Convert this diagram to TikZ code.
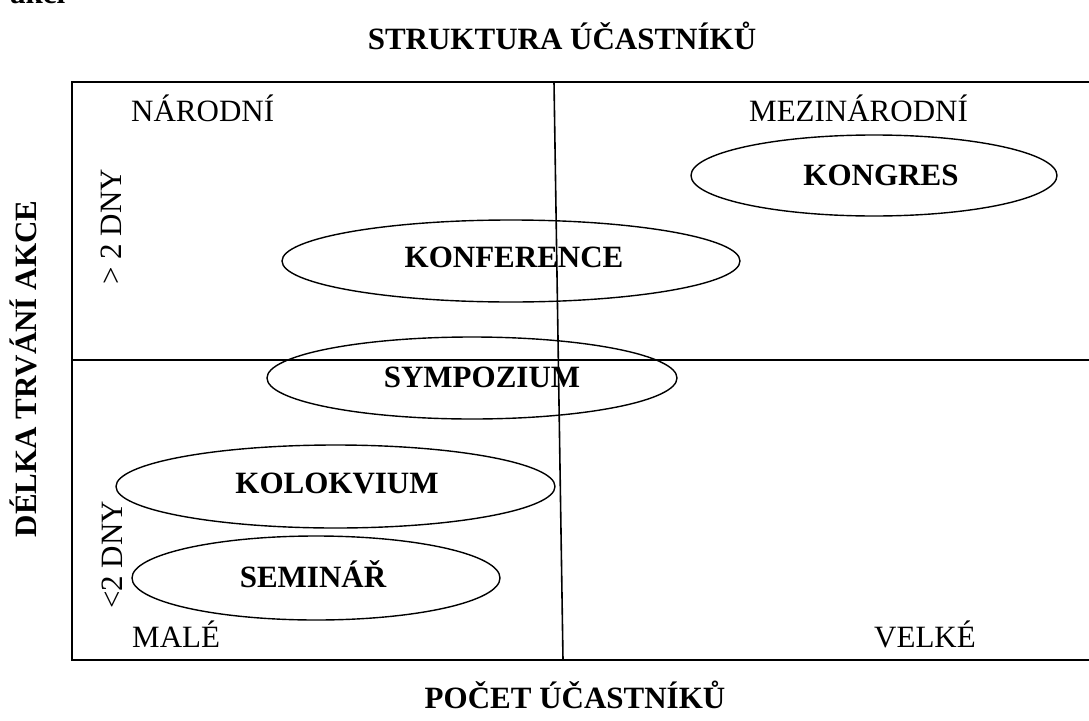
\documentclass[tikz,border=0pt]{standalone}
\usepackage{fontspec}
\setmainfont{Liberation Serif}
\usetikzlibrary{shapes.geometric}
\begin{document}
\begin{tikzpicture}[x=1pt,y=-1pt,
  txt/.style={font=\fontsize{31}{36}\selectfont, inner sep=0pt},
  btxt/.style={font=\fontsize{31}{36}\selectfont\bfseries, inner sep=0pt},
  oval/.style={draw, ellipse, line width=1.4pt, inner sep=0pt},
  frameline/.style={line width=1.6pt}]
\useasboundingbox (0,0) rectangle (1089,720);
% frame
\coordinate (tr) at (1095,82);
\coordinate (tl) at (72,82);
\coordinate (bl) at (72,660);
\coordinate (br) at (1095,660);
\coordinate (ml) at (72,360);
\coordinate (mr) at (1095,360);
\coordinate (vt) at (554,82);
\coordinate (vb) at (563,660);
\draw[frameline] (tr) -- (tl) -- (bl) -- (br);
\draw[frameline] (ml) -- (mr);
\draw[frameline] (vt) -- (vb);
% cut-off heading fragment
\node[btxt, anchor=base west] (akci) at (10,4) {akcí};
% titles
\node[btxt, anchor=base] (title) at (562,49) {STRUKTURA ÚČASTNÍKŮ};
\node[btxt, anchor=base] (pocet) at (575,708) {POČET ÚČASTNÍKŮ};
\node[btxt, anchor=base, rotate=90] (delka) at (36,369) {DÉLKA TRVÁNÍ AKCE};
% axis labels
\node[txt, anchor=base west] (narodni) at (131,121) {NÁRODNÍ};
\node[txt, anchor=base west] (mezi) at (749,121) {MEZINÁRODNÍ};
\node[txt, anchor=base west] (male) at (132,647) {MALÉ};
\node[txt, anchor=base east] (velke) at (976,647) {VELKÉ};
\node[txt, anchor=base, rotate=90] (vice) at (121,227) {> 2 DNY};
\node[txt, anchor=base, rotate=90] (mene) at (122,555) {<2 DNY};
% ellipses
\node[oval, minimum width=366pt, minimum height=81pt] (kongres) at (874,175.5) {};
\node[btxt, anchor=base] (kongrest) at (881,185) {KONGRES};
\node[oval, minimum width=458pt, minimum height=82pt] (konf) at (511,261) {};
\node[btxt, anchor=base] (konft) at (514,267) {KONFERENCE};
\node[oval, minimum width=410pt, minimum height=82pt] (symp) at (472,378) {};
\node[btxt, anchor=base] (sympt) at (482,387) {SYMPOZIUM};
\node[oval, minimum width=439pt, minimum height=83pt] (kolo) at (335.5,486.5) {};
\node[btxt, anchor=base] (kolot) at (337,493) {KOLOKVIUM};
\node[oval, minimum width=368pt, minimum height=84pt] (semi) at (316,578) {};
\node[btxt, anchor=base] (semit) at (313,587) {SEMINÁŘ};
\end{tikzpicture}
\end{document}
